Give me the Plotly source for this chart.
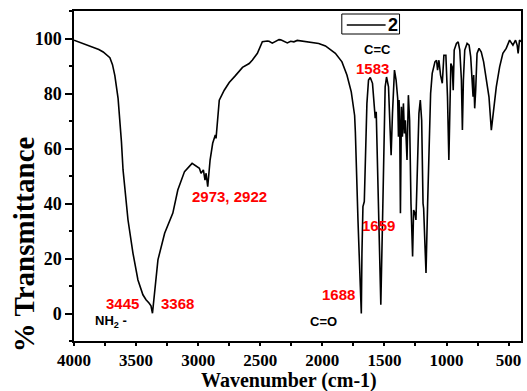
import plotly.graph_objects as go

# IR spectrum (wavenumber cm-1, % transmittance)
wavenumber = [
    4000, 3900, 3800, 3765, 3711, 3690, 3671, 3645, 3631, 3618, 3605, 3565, 3525, 3485,
    3445, 3420, 3396, 3380, 3368, 3351, 3324, 3270, 3204, 3164, 3110, 3049, 3030,
    2990, 2977, 2958, 2945, 2936, 2923, 2904, 2883, 2862, 2856, 2843, 2830, 2790,
    2750, 2700, 2643, 2589, 2563, 2523, 2483, 2443, 2429, 2403, 2349, 2335, 2300,
    2282, 2255, 2229, 2202, 2150, 2109, 2082, 2029, 1975, 1948, 1895, 1842, 1802,
    1767, 1740, 1734, 1726, 1716, 1713, 1694, 1686, 1681, 1673, 1662, 1654, 1641,
    1628, 1614, 1596, 1585, 1580, 1574, 1566, 1553, 1540, 1529, 1515, 1505, 1494,
    1483, 1467, 1454, 1446, 1435, 1419, 1406, 1393, 1387, 1382, 1377, 1371, 1363,
    1355, 1347, 1339, 1331, 1326, 1318, 1307, 1297, 1286, 1273, 1265, 1254, 1246,
    1233, 1222, 1211, 1200, 1189, 1184, 1176, 1165, 1152, 1141, 1128, 1115, 1093,
    1080, 1072, 1061, 1048, 1034, 1021, 1005, 992, 981, 970, 965, 954, 946, 938,
    920, 906, 893, 880, 872, 864, 853, 834, 818, 805, 794, 786, 781, 773, 765,
    754, 738, 720, 701, 680, 658, 639, 620, 599, 572, 546, 519, 492, 465, 444,
    431, 423, 412, 400,
]
transmittance = [
    99.4, 97.8, 96.0, 95.1, 93.0, 90.5, 86.5, 78.2, 70.3, 62.5, 52.2, 34.0, 21.9, 12.2,
    6.8, 5.0, 3.8, 2.8, 0.1, 7.4, 19.5, 29.2, 36.5, 44.9, 51.6, 54.6, 54.0,
    52.8, 51.0, 52.2, 48.5, 51.0, 46.1, 55.8, 61.9, 64.9, 63.7, 71.5, 77.6, 81.2,
    84.0, 86.5, 89.5, 90.9, 92.2, 94.6, 98.8, 99.1, 99.0, 98.3, 99.6, 99.5, 98.9,
    98.4, 99.0, 98.8, 99.3, 98.9, 98.8, 98.4, 98.2, 97.3, 96.4, 94.6, 91.5, 86.7,
    80.6, 72.0, 66.0, 52.2, 38.0, 34.0, 9.8, 0.0, 21.9, 38.9, 40.7, 55.8, 76.4,
    84.9, 85.8, 83.7, 77.0, 77.6, 71.0, 73.4, 46.0, 15.9, 3.2, 34.0, 64.3, 82.4,
    86.0, 82.4, 66.7, 57.6, 72.8, 88.5, 84.9, 78.2, 64.3, 77.6, 70.3, 36.5, 75.2,
    64.3, 76.4, 65.5, 70.3, 63.0, 55.8, 79.4, 70.3, 40.0, 20.7, 37.6, 36.5, 34.0,
    58.2, 72.8, 77.6, 70.3, 40.0, 38.2, 28.0, 14.7, 40.0, 64.3, 80.0, 87.3, 91.5,
    92.1, 88.5, 92.1, 86.7, 83.7, 93.9, 93.9, 78.8, 55.8, 78.8, 90.9, 89.7, 81.2, 95.8,
    98.2, 98.8, 95.8, 84.9, 66.7, 84.9, 95.8, 98.2, 97.6, 93.3, 84.9, 78.8, 86.7, 74.6, 81.2,
    94.6, 96.4, 95.1, 91.5, 86.0, 78.8, 66.7, 74.0, 82.4, 89.7, 94.6, 96.4, 99.4, 97.6, 99.4,
    97.6, 94.6, 99.4, 98.8,
]

series_name = "2"
x_ticks = [4000, 3500, 3000, 2500, 2000, 1500, 1000, 500]
y_ticks = [0, 20, 40, 60, 80, 100]

# peak labels: (text, wavenumber, %T, colour, size)
labels = [
    ("3445", 3611, 3.8, "red", 15),
    ("3368", 3168, 3.8, "red", 15),
    ("NH<sub>2</sub> -", 3700, -3.0, "black", 13),
    ("2973, 2922", 2745, 42.5, "red", 15),
    ("1688", 1873, 6.8, "red", 15),
    ("C=O", 1987, -2.9, "black", 13),
    ("1659", 1546, 32.0, "red", 15),
    ("1583", 1594, 89.0, "red", 15),
    ("C=C", 1557, 95.9, "black", 13),
]

serif = "Liberation Serif, Times New Roman, serif"
sans = "Liberation Sans, Arial, sans-serif"

# plot area in pixels (for paper-coordinate helpers)
L, R, T, B = 74, 523, 11, 341
def px(xp):
    return (xp - L) / (R - L)
def py(yp):
    return (B - yp) / (B - T)

fig = go.Figure()
fig.add_trace(go.Scatter(
    x=wavenumber, y=transmittance, mode="lines", name=series_name,
    line=dict(color="black", width=1.6), showlegend=False,
))

for text, x, y, color, size in labels:
    fig.add_annotation(
        x=x, y=y, text=text, showarrow=False,
        font=dict(family=sans, size=size, color=color, weight="bold"),
        xanchor="center", yanchor="middle",
    )

# boxed legend (compact, as in the reference)
fig.add_shape(type="rect", xref="paper", yref="paper",
              x0=px(343), x1=px(401), y0=py(34), y1=py(14),
              line=dict(color="black", width=1), fillcolor="white", layer="above")
fig.add_shape(type="line", xref="paper", yref="paper",
              x0=px(348), x1=px(387), y0=py(25), y1=py(25),
              line=dict(color="black", width=1.6), layer="above")
fig.add_annotation(
    xref="paper", yref="paper", x=px(394), y=py(25), text=series_name,
    showarrow=False, font=dict(family=sans, size=18, color="black", weight="bold"),
    xanchor="center", yanchor="middle",
)

# axis titles
fig.add_annotation(
    xref="paper", yref="paper", x=px(290), y=py(380),
    text="Wavenumber (cm-1)", showarrow=False,
    font=dict(family=serif, size=20, color="black", weight="bold"),
    xanchor="center", yanchor="middle",
)
fig.add_annotation(
    xref="paper", yref="paper", x=px(24), y=py(244),
    text="% Transmittance", showarrow=False, textangle=-90,
    font=dict(family=serif, size=29, color="black", weight="bold"),
    xanchor="center", yanchor="middle",
)

fig.update_layout(
    width=527, height=391,
    margin=dict(l=L, r=527 - R, t=T, b=391 - B),
    paper_bgcolor="white", plot_bgcolor="white",
    showlegend=False,
    xaxis=dict(
        range=[4000, 400], tickvals=x_ticks, ticktext=[str(v) for v in x_ticks],
        ticks="outside", ticklen=3, tickwidth=1.5, tickcolor="black",
        minor=dict(dtick=250, tick0=0, ticks="outside", ticklen=3, tickwidth=1.5, tickcolor="black"),
        showline=True, linecolor="black", linewidth=1.5, mirror=True,
        showgrid=False, zeroline=False,
        tickfont=dict(family=serif, size=17, color="black", weight="bold"),
    ),
    yaxis=dict(
        range=[-10, 110], tickvals=y_ticks, ticktext=[str(v) for v in y_ticks],
        ticks="outside", ticklen=7, tickwidth=1.5, tickcolor="black",
        minor=dict(dtick=10, tick0=0, ticks="outside", ticklen=3, tickwidth=1.5, tickcolor="black"),
        showline=True, linecolor="black", linewidth=1.5, mirror=True,
        showgrid=False, zeroline=False,
        tickfont=dict(family=serif, size=18, color="black", weight="bold"),
    ),
    xaxis2=dict(
        overlaying="x", side="top", anchor="y", range=[4000, 400],
        tickvals=x_ticks, showticklabels=False,
        ticks="inside", ticklen=4, tickwidth=1.5, tickcolor="black",
        minor=dict(dtick=250, tick0=0, ticks="inside", ticklen=3, tickwidth=1.5, tickcolor="black"),
        showgrid=False, zeroline=False, showline=False,
    ),
    yaxis2=dict(
        overlaying="y", side="right", anchor="x", range=[-10, 110],
        tickvals=y_ticks, showticklabels=False,
        ticks="inside", ticklen=5, tickwidth=1.5, tickcolor="black",
        minor=dict(dtick=10, tick0=0, ticks="inside", ticklen=3, tickwidth=1.5, tickcolor="black"),
        showgrid=False, zeroline=False, showline=False,
    ),
)

fig.write_html("out.html")
